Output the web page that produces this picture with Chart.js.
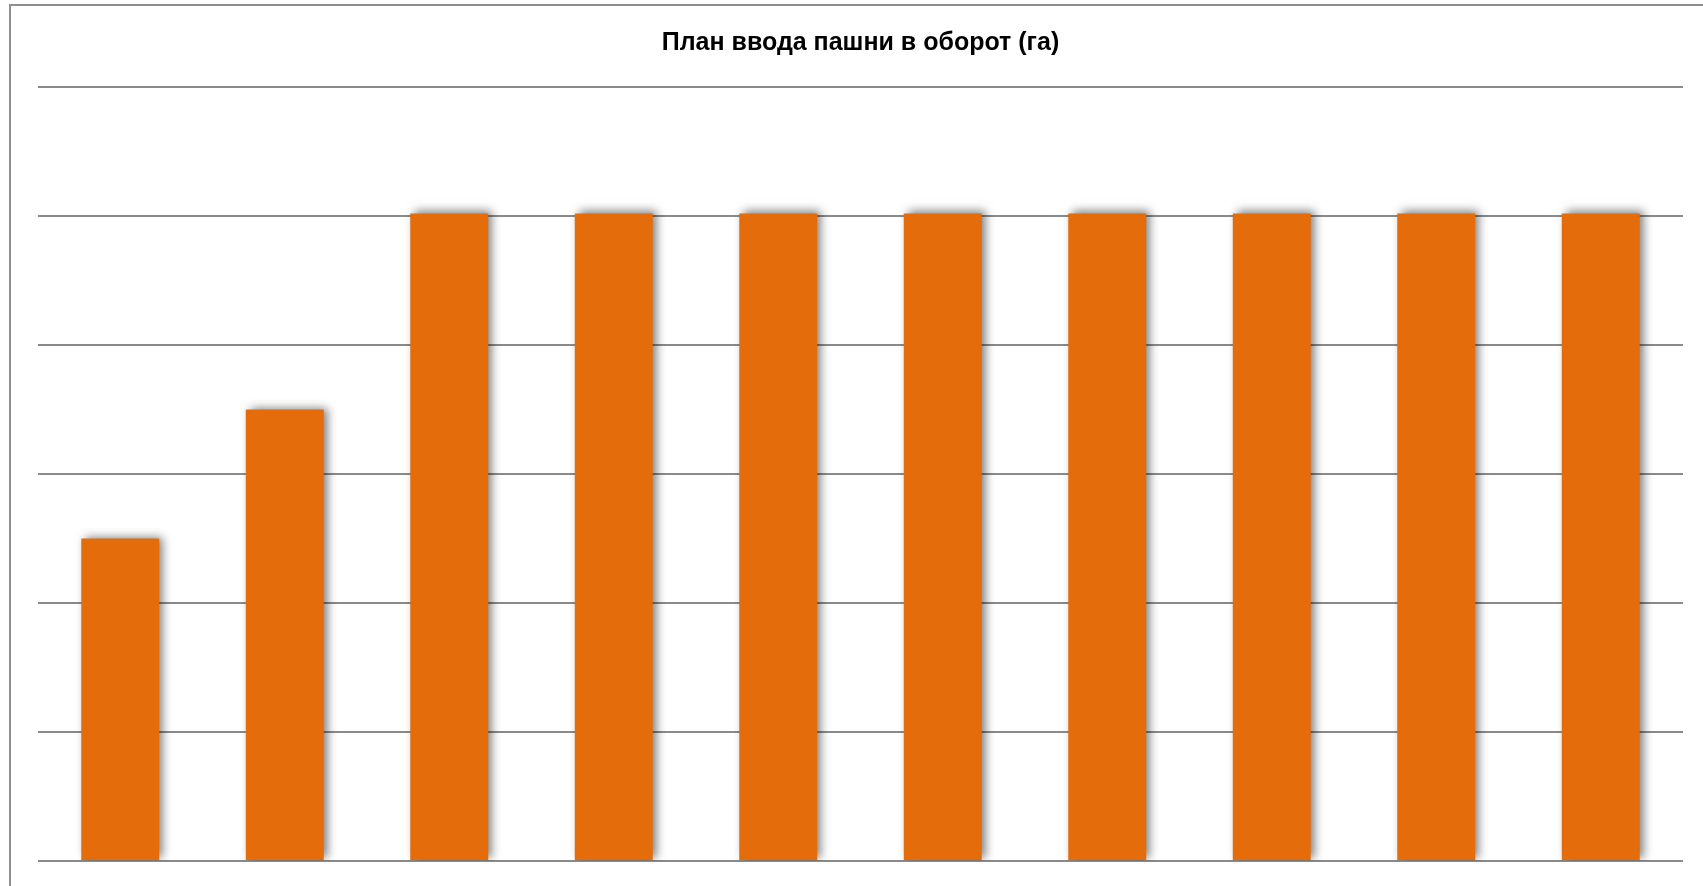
<!DOCTYPE html>
<html>
<head>
<meta charset="utf-8">
<script src="https://cdn.jsdelivr.net/npm/chart.js@4/dist/chart.umd.min.js"></script>
<style>
  html, body { margin: 0; padding: 0; background: #fff; overflow: hidden; }
  #wrap { position: relative; width: 1703px; height: 886px; }
  #frame { position: absolute; left: 9px; top: 4px; width: 1800px; height: 1000px; border: 2px solid #8e8e8e; box-sizing: border-box; pointer-events: none; }
  canvas { position: absolute; left: 0; top: 0; }
</style>
</head>
<body>
<div id="wrap">
  <canvas id="c" width="1703" height="886"></canvas>
  <div id="frame"></div>
</div>
<script>
const chartTitle = 'План ввода пашни в оборот (га)';
const categories = ['1', '2', '3', '4', '5', '6', '7', '8', '9', '10'];
const seriesValues = [2.5, 3.5, 5.02, 5.02, 5.02, 5.02, 5.02, 5.02, 5.02, 5.02];
const yTicks = [0, 1, 2, 3, 4, 5, 6];

const shadowPlugin = {
  id: 'barShadow',
  beforeDatasetsDraw(chart) {
    const ctx = chart.ctx;
    ctx.save();
    ctx.shadowColor = 'rgba(0,0,0,0.5)';
    ctx.shadowBlur = 9;
    ctx.shadowOffsetX = 4;
    ctx.shadowOffsetY = -2;
  },
  afterDatasetsDraw(chart) {
    chart.ctx.restore();
  }
};

new Chart(document.getElementById('c'), {
  type: 'bar',
  data: {
    labels: categories,
    datasets: [{
      data: seriesValues,
      backgroundColor: '#E46C0A',
      borderWidth: 0,
      categoryPercentage: 1.0,
      barPercentage: 0.474
    }]
  },
  options: {
    responsive: false,
    animation: false,
    devicePixelRatio: 1,
    layout: { padding: { left: 38, right: 20, top: 0, bottom: 17 } },
    plugins: {
      legend: { display: false },
      tooltip: { enabled: false },
      title: {
        display: true,
        text: chartTitle,
        color: '#000',
        font: { family: 'Liberation Sans, Arial, sans-serif', size: 25, weight: 'bold', lineHeight: 1.2 },
        padding: { top: 28, bottom: 29 }
      }
    },
    scales: {
      x: {
        grid: { display: false },
        border: { display: false },
        ticks: { display: false }
      },
      y: {
        min: yTicks[0],
        max: yTicks[yTicks.length - 1],
        afterBuildTicks(scale) { scale.ticks = yTicks.map(v => ({ value: v })); },
        grid: { color: '#8a8a8a', lineWidth: 2, drawTicks: false },
        border: { display: false },
        ticks: { display: false }
      }
    }
  },
  plugins: [shadowPlugin]
});
</script>
</body>
</html>
